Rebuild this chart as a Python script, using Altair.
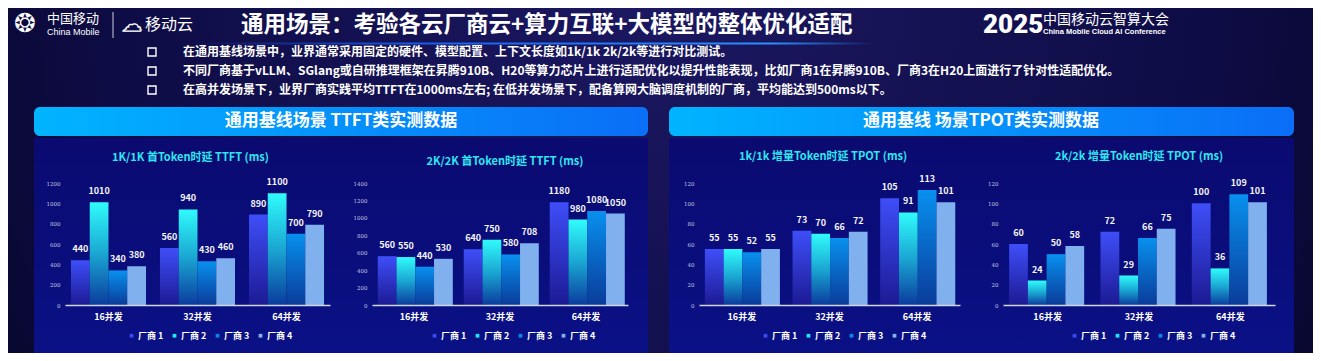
import altair as alt
import pandas as pd

FONT = "Noto Sans CJK SC"

# ---------------- data ----------------
categories = ["16并发", "32并发", "64并发"]
vendors = ["厂商 1", "厂商 2", "厂商 3", "厂商 4"]

ttft_1k = [[440, 560, 890], [1010, 940, 1100], [340, 430, 700], [380, 460, 790]]
ttft_2k = [[560, 640, 1180], [550, 750, 980], [440, 580, 1080], [530, 708, 1050]]
tpot_1k = [[55, 73, 105], [55, 70, 91], [52, 66, 113], [55, 72, 101]]
tpot_2k = [[60, 72, 100], [24, 29, 36], [50, 66, 109], [58, 75, 101]]

chart_titles = [
    "1K/1K 首Token时延 TTFT (ms)",
    "2K/2K 首Token时延 TTFT (ms)",
    "1k/1k 增量Token时延 TPOT (ms)",
    "2k/2k 增量Token时延 TPOT (ms)",
]
y_max = [1200, 1400, 120, 120]
y_step = [200, 200, 20, 20]

header_title = "通用场景：考验各云厂商云+算力互联+大模型的整体优化适配"
bullets = [
    "在通用基线场景中，业界通常采用固定的硬件、模型配置、上下文长度如1k/1k 2k/2k等进行对比测试。",
    "不同厂商基于vLLM、SGlang或自研推理框架在昇腾910B、H20等算力芯片上进行适配优化以提升性能表现，比如厂商1在昇腾910B、厂商3在H20上面进行了针对性适配优化。",
    "在高并发场景下，业界厂商实践平均TTFT在1000ms左右; 在低并发场景下，配备算网大脑调度机制的厂商，平均能达到500ms以下。",
]
banner_titles = ["通用基线场景 TTFT类实测数据", "通用基线 场景TPOT类实测数据"]

# ---------------- styles ----------------
def lin(stops, horizontal=False):
    s = [alt.GradientStop(color=c, offset=o) for o, c in stops]
    if horizontal:
        return alt.LinearGradient(gradient="linear", stops=s, x1=0, x2=1, y1=0, y2=0)
    return alt.LinearGradient(gradient="linear", stops=s, x1=0, x2=0, y1=0, y2=1)

bar_fills = [
    lin([(0, "#3e4ef8"), (1, "#1c1a94")]),
    lin([(0, "#30fbfb"), (0.5, "#1aa6d2"), (1, "#0a3c9e")]),
    lin([(0, "#0890ee"), (1, "#0a3c9a")]),
    "#80b0ee",
]
legend_colors = ["#3a48f0", "#24e6f2", "#0a86ea", "#80b0ee"]

# screen position of the first plot's origin (page has 8px margin)
OX, OY = 65, 183
def sx(x):
    return x - OX
def sy(y):
    return y - OY

one = pd.DataFrame({"k": [0]})

def rect(x0, y0, x1, y1, **kw):
    return alt.Chart(one).mark_rect(**kw).encode(
        x=alt.value(sx(x0)), x2=alt.value(sx(x1)), y=alt.value(sy(y0)), y2=alt.value(sy(y1))
    )

def text(s, x, y, **kw):
    kw.setdefault("font", FONT)
    return alt.Chart(pd.DataFrame({"t": [s]})).mark_text(**kw).encode(
        x=alt.value(sx(x)), y=alt.value(sy(y)), text="t:N"
    )

# ---------------- slide decorations (drawn behind, in first panel) ----------------
deco = []
deco.append(rect(8, 8, 1313, 353, fill=alt.RadialGradient(
    gradient="radial",
    stops=[alt.GradientStop(color="#1c1862", offset=0),
           alt.GradientStop(color="#0e0c46", offset=0.55),
           alt.GradientStop(color="#03031a", offset=1)],
    x1=0.5, y1=0.35, r1=0, x2=0.5, y2=0.35, r2=0.75)))
panel_fill = lin([(0, "#0a0a70"), (1, "#0a1186")])
deco.append(rect(34, 138, 648, 353, fill=panel_fill))
deco.append(rect(669, 138, 1294, 353, fill=panel_fill))
banner_fill = lin([(0, "#00b4ff"), (1, "#0a6ef6")], horizontal=True)
deco.append(rect(34, 107, 648, 136, fill=banner_fill, cornerRadius=6))
deco.append(rect(669, 107, 1294, 136, fill=banner_fill, cornerRadius=6))
deco.append(text(banner_titles[0], 341, 121, fontSize=17, fontWeight="bold", color="white"))
deco.append(text(banner_titles[1], 981, 121, fontSize=17, fontWeight="bold", color="white"))

# header
deco.append(rect(190, 42.5, 875, 44.5, fill=lin(
    [(0, "rgba(20,90,255,0)"), (0.35, "#1560f0"), (0.85, "#2a90ff"), (1, "rgba(40,140,255,0)")],
    horizontal=True)))
deco.append(text("❂", 25, 24, fontSize=26, color="white", font="DejaVu Sans"))
deco.append(text("中国移动", 47, 19, fontSize=13, color="white", align="left"))
deco.append(text("China Mobile", 47, 32, fontSize=9, color="white", align="left", font="Liberation Sans"))
deco.append(rect(112.5, 12, 113.5, 38, fill="#d0d0e0"))
deco.append(text("☁", 132, 25, fontSize=20, fill="#ffffff", fillOpacity=0, stroke="white",
                 strokeWidth=1.3, font="DejaVu Sans"))
deco.append(text("移动云", 145, 25, fontSize=16, color="white", align="left"))
deco.append(text(header_title, 241, 25, fontSize=22.5, fontWeight="bold", color="white", align="left"))
deco.append(text("2025", 983, 25, fontSize=26, fontWeight=900, color="white", align="left", font="Roboto"))
deco.append(text("中国移动云智算大会", 1043, 20, fontSize=14, color="white", align="left"))
deco.append(text("China Mobile Cloud AI Conference", 1043, 32, fontSize=7.5, fontWeight="bold",
                 color="white", align="left", font="Liberation Sans"))
for i, (b, yy) in enumerate(zip(bullets, [52, 71, 90])):
    deco.append(rect(148, yy - 4, 156, yy + 4, fill="transparent", stroke="white", strokeWidth=1.4))
    deco.append(text(b, 183, yy, fontSize=12, fontWeight="bold", color="white", align="left"))

# ---------------- bar panels ----------------
title_pos = [(190.5, 158), (505, 162), (823, 157), (1139, 157)]
legend_start = [127, 430, 761, 1070]
plot_left = [65, 372, 699, 1003]
widths = [265, 256, 261, 272]
PLOT_H = 122


def panel(idx, vals, extra=None):
    rows = []
    for vi, v in enumerate(vendors):
        for ci, c in enumerate(categories):
            rows.append({"cat": c, "vendor": v, "val": vals[vi][ci]})
    df = pd.DataFrame(rows)
    ymax = y_max[idx]
    x = alt.X("cat:N", sort=categories,
              scale=alt.Scale(domain=categories, paddingInner=0.157, paddingOuter=0.067),
              axis=alt.Axis(title=None, labelAngle=0, ticks=False, domainColor="#cfd6f2",
                            domainWidth=1.5, labelColor="white", labelFont=FONT, labelFontSize=9,
                            labelFontWeight="bold", labelPadding=7, zindex=1))
    y = alt.Y("val:Q", scale=alt.Scale(domain=[0, ymax], nice=False),
              axis=alt.Axis(title=None, values=list(range(0, ymax + 1, y_step[idx])), grid=False,
                            domain=False, ticks=False, labelFontSize=5.5, labelColor="#c4c8e0",
                            labelFont="DejaVu Serif", labelPadding=5, zindex=1, format="d"))
    xo = alt.XOffset("vendor:N", sort=vendors, scale=alt.Scale(domain=vendors))
    layers = list(extra) if extra else []
    for vi, v in enumerate(vendors):
        layers.append(alt.Chart(df[df.vendor == v]).mark_bar(fill=bar_fills[vi]).encode(
            x=x, y=y, xOffset=xo))
    layers.append(alt.Chart(df).mark_square(opacity=0, size=1).encode(
        x=x, y=y, xOffset=xo,
        color=alt.Color("vendor:N", sort=vendors,
                        scale=alt.Scale(domain=vendors, range=legend_colors),
                        legend=alt.Legend(orient="none", legendX=legend_start[idx] - plot_left[idx],
                                          legendY=148, direction="horizontal", title=None,
                                          symbolType="square", symbolSize=14, symbolOpacity=1,
                                          symbolStrokeWidth=0, labelColor="white", labelFont=FONT,
                                          labelFontSize=9, labelFontWeight="bold", labelOffset=2,
                                          columnPadding=6, padding=0))))
    layers.append(alt.Chart(df).mark_text(dy=-11, baseline="middle", fontSize=9, fontWeight="bold",
                                          color="#f4f4f8", font=FONT).encode(
        x=x, y=y, xOffset=xo, text=alt.Text("val:Q", format="d")))
    tx, ty = title_pos[idx]
    layers.append(alt.Chart(pd.DataFrame({"t": [chart_titles[idx]]})).mark_text(
        fontSize=11, fontWeight="bold", color="#2fe6f0", font=FONT, baseline="middle").encode(
        x=alt.value(tx - plot_left[idx]), y=alt.value(ty - OY), text="t:N"))
    return alt.layer(*layers).properties(width=widths[idx], height=PLOT_H)


def spacer(w):
    return alt.Chart(one).mark_point(opacity=0).encode(
        x=alt.value(0), y=alt.value(0)).properties(width=w, height=PLOT_H)


c1 = panel(0, ttft_1k, deco)
c2 = panel(1, ttft_2k)
c3 = panel(2, tpot_1k)
c4 = panel(3, tpot_2k)

gaps = [plot_left[1] - plot_left[0] - widths[0],
        plot_left[2] - plot_left[1] - widths[1],
        plot_left[3] - plot_left[2] - widths[2]]

chart = alt.hconcat(c1, spacer(gaps[0]), c2, spacer(gaps[1]), c3, spacer(gaps[2]), c4,
                    spacing=0, bounds="flush").resolve_scale(
    color="independent").resolve_legend(color="independent").properties(
    padding=0, background="#06061f"
).configure_view(stroke=None)

chart.save("out.html", embed_options={"renderer": "svg", "actions": False})
